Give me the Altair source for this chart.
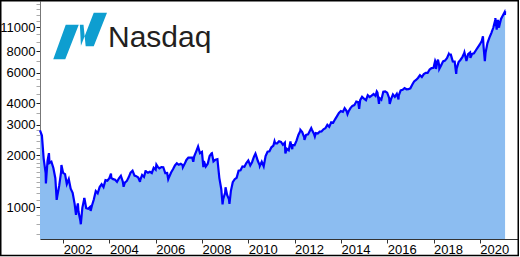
import altair as alt
import pandas as pd

# Nasdaq-100 monthly closes, Jan 2001 .. Jan 2021 (read off the chart / estimated)
monthly_close = [
    2593, 1908, 1574, 1855, 1800, 1830, 1683, 1469, 1154, 1329, 1596, 1577,
    1550, 1359, 1452, 1277, 1208, 1051, 962, 942, 832, 989, 1116, 984,
    977, 1000, 1018, 1106, 1237, 1201, 1305, 1355, 1303, 1430, 1421, 1468,
    1476, 1450, 1438, 1398, 1466, 1517, 1401, 1385, 1412, 1485, 1581, 1621,
    1519, 1509, 1483, 1427, 1534, 1494, 1605, 1578, 1601, 1574, 1687, 1645,
    1712, 1674, 1703, 1700, 1572, 1575, 1493, 1585, 1655, 1740, 1791, 1756,
    1778, 1747, 1772, 1873, 1933, 1934, 1932, 1964, 2091, 2239, 2048, 2084,
    1842, 1716, 1781, 1973, 2045, 1837, 1880, 1895, 1475, 1268, 1109, 1212,
    1176, 1110, 1237, 1393, 1448, 1477, 1625, 1632, 1719, 1710, 1797, 1860,
    1741, 1817, 1957, 2006, 1846, 1741, 1830, 1717, 1971, 2091, 2101, 2217,
    2266, 2335, 2338, 2402, 2379, 2292, 2356, 2170, 2131, 2336, 2288, 2278,
    2424, 2614, 2755, 2712, 2533, 2615, 2632, 2772, 2799, 2660, 2677, 2661,
    2731, 2739, 2818, 2857, 2987, 2910, 3094, 3073, 3218, 3360, 3501, 3592,
    3553, 3734, 3595, 3571, 3737, 3849, 3888, 4083, 4050, 4158, 4344, 4236,
    4151, 4440, 4334, 4414, 4508, 4397, 4589, 4274, 4181, 4648, 4665, 4593,
    4280, 4201, 4483, 4341, 4523, 4418, 4731, 4771, 4875, 4801, 4810, 4864,
    5117, 5330, 5436, 5584, 5788, 5647, 5880, 5988, 5980, 6248, 6367, 6397,
    6950, 6854, 6581, 6606, 6968, 7040, 7272, 7660, 7627, 6967, 6949, 6330,
    6907, 7099, 7378, 7781, 7127, 7671, 7849, 7692, 7750, 8084, 8403, 8733,
    9150, 8461, 7813, 8890, 9555, 10157, 10905, 12111, 11418, 11052, 12268, 12888,
    12925,
]

# intra-month highs / lows visible in the chart
extreme_dates = [
    "2001-01-01", "2001-04-04", "2001-05-22", "2001-09-21", "2001-12-05",
    "2002-07-23", "2002-08-22", "2002-10-07", "2002-12-02", "2003-03-11",
    "2004-01-26", "2004-08-12", "2005-04-28", "2005-07-27", "2006-01-11",
    "2006-07-17", "2007-03-05", "2007-08-16", "2008-01-22", "2008-06-05",
    "2008-11-20", "2009-01-06", "2009-03-09", "2010-04-23", "2010-07-01",
    "2011-02-18", "2011-08-08", "2011-10-27", "2011-11-25", "2012-04-02",
    "2012-06-04", "2012-09-19", "2012-11-15", "2014-04-14", "2014-10-15",
    "2015-07-20", "2015-08-24", "2016-02-09", "2016-06-27", "2018-01-26",
    "2018-02-08", "2018-03-12", "2018-04-02", "2018-08-29", "2018-12-24",
    "2019-05-03", "2019-06-03", "2019-08-05", "2020-02-19", "2020-03-20",
    "2020-09-02", "2020-09-23", "2020-10-12", "2020-10-30", "2021-01-25",
    "2021-02-02",
]
extreme_values = [
    2780, 1370, 2050, 1100, 1750,
    900, 1050, 795, 1130, 950,
    1560, 1310, 1400, 1630, 1760,
    1450, 1700, 1830, 1700, 2050,
    1036, 1300, 1043, 2040, 1730,
    2400, 2040, 2400, 2160, 2795,
    2450, 2860, 2560, 3450, 3700,
    4660, 3950, 3950, 4200, 7020,
    6300, 7130, 6310, 7690, 5900,
    7850, 7000, 7300, 9720, 6994,
    12420, 10630, 12100, 10900, 13400,
    13600,
]

y_major = [1000, 2000, 3000, 4000, 6000, 8000, 11000]
y_minor = [700, 800, 900, 1100, 1200, 1300, 1400, 1500, 1600, 1700, 1800, 1900,
           2200, 2400, 2600, 2800, 3500, 4500, 5000, 5500, 7000, 9000, 10000,
           12000, 13000, 14000, 15000]
tick_years = list(range(2002, 2022))
y_domain = [653, 15580]

dates = list(pd.date_range("2001-01-31", periods=len(monthly_close), freq="ME").strftime("%Y-%m-%d")) + extreme_dates
values = monthly_close + extreme_values
df = pd.DataFrame({"date": dates, "value": values}).sort_values("date").reset_index(drop=True)

FONT = "Liberation Sans"
major_list = "[" + ",".join(str(v) for v in y_major) + "]"

x_enc = alt.X(
    "date:T",
    scale=alt.Scale(type="utc", domain=[alt.DateTime(year=2001, month=1, date=1, utc=True),
                                        alt.DateTime(year=2021, month=8, date=25, utc=True)]),
    axis=alt.Axis(
        values=[alt.DateTime(year=y, month=1, date=1, utc=True) for y in tick_years],
        labelExpr="utcyear(datum.value) % 2 == 0 ? utcFormat(datum.value, '%Y') : ''",
        labelAlign="left", labelBaseline="top", labelPadding=0,
        labelFlush=False, labelOverlap=False,
        tickSize=4, tickColor="#333", domainColor="#333",
        labelFont=FONT, labelFontSize=13, labelColor="black",
        grid=False, title=None,
    ),
)
y_enc = alt.Y(
    "value:Q",
    scale=alt.Scale(type="log", domain=y_domain, nice=False, zero=False),
    axis=alt.Axis(
        values=y_major + y_minor,
        labelExpr=f"indexof({major_list}, datum.value) >= 0 ? format(datum.value, 'd') : ''",
        tickColor={"condition": {"test": f"indexof({major_list}, datum.value) >= 0", "value": "#222"},
                   "value": "#aaa"},
        tickSize=4, labelPadding=1, labelOverlap=False,
        domainColor="#777", labelFont=FONT, labelFontSize=13, labelColor="black",
        grid=False, title=None,
    ),
)

base = alt.Chart(df)
area = base.mark_area(color="#8cbdf1", opacity=1).encode(
    x=x_enc, y=y_enc, y2=alt.datum(y_domain[0])
)
line = base.mark_line(color="#0000ff", strokeWidth=2.2).encode(x="date:T", y="value:Q")

one = pd.DataFrame({"k": [0]})
icon_path = ("M -0.991 0.861 L -0.546 0.861 L -0.046 -0.417 L -0.528 -0.417 Z "
             "M 0.028 0.380 L 0.509 0.380 L 1.0 -0.861 L 0.509 -0.861 Z "
             "M -0.005 -0.417 L 0.13 -0.417 L 0.21 0.380 L 0.035 0.380 Z")
icon = alt.Chart(one).mark_point(
    shape=icon_path, filled=True, color="#0e9ed0", opacity=1, size=2916, strokeWidth=0
).encode(x=alt.value(40), y=alt.value(35))
logo_text = alt.Chart(one).mark_text(
    text="Nasdaq", font=FONT, fontSize=30, color="#231f20", align="left", baseline="alphabetic"
).encode(x=alt.value(68), y=alt.value(46))
frame = alt.Chart(one).mark_rect(
    fillOpacity=0, stroke="black", strokeWidth=1.5
).encode(x=alt.value(-39.25), x2=alt.value(478.25), y=alt.value(-0.25), y2=alt.value(254.5))

chart = alt.layer(area, line, icon, logo_text, frame).properties(
    width=478, height=238,
    autosize=alt.AutoSizeParams(type="none"),
    padding={"left": 40, "top": 1, "right": 2, "bottom": 18},
    background="white",
).configure_view(strokeWidth=0)

chart.save("out.html", embed_options={"renderer": "svg", "actions": False})
